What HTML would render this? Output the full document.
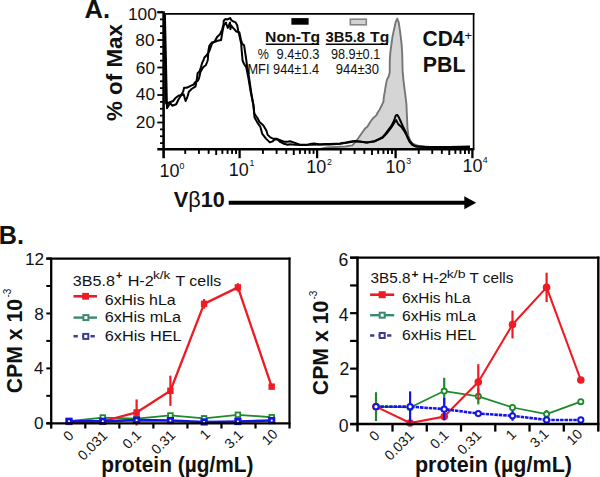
<!DOCTYPE html>
<html><head><meta charset="utf-8"><style>
html,body{margin:0;padding:0;background:#fff;}
svg{display:block;}
text{font-family:"Liberation Sans", sans-serif;fill:#111;}
</style></head><body>
<svg width="600" height="477" viewBox="0 0 600 477">
<rect width="600" height="477" fill="#fff"/>
<text x="84.6" y="17.9" font-size="25.5" font-weight="bold">A.</text>
<text transform="translate(122.3,121) rotate(-90)" font-size="22" font-weight="bold" textLength="97" lengthAdjust="spacingAndGlyphs">% of Max</text>
<text x="156.8" y="20.1" font-size="17.3" text-anchor="end">100</text>
<text x="154.5" y="45.7" font-size="17.3" text-anchor="end">80</text>
<text x="155" y="73.8" font-size="17.3" text-anchor="end">60</text>
<text x="155" y="100.1" font-size="17.3" text-anchor="end">40</text>
<text x="155" y="127.6" font-size="17.3" text-anchor="end">20</text>
<line x1="160" x2="163" y1="143.12" y2="143.12" stroke="#000" stroke-width="1.8"/>
<line x1="160" x2="163" y1="136.25" y2="136.25" stroke="#000" stroke-width="1.8"/>
<line x1="160" x2="163" y1="129.38" y2="129.38" stroke="#000" stroke-width="1.8"/>
<line x1="157.3" x2="163" y1="122.5" y2="122.5" stroke="#000" stroke-width="1.8"/>
<line x1="160" x2="163" y1="115.62" y2="115.62" stroke="#000" stroke-width="1.8"/>
<line x1="160" x2="163" y1="108.75" y2="108.75" stroke="#000" stroke-width="1.8"/>
<line x1="160" x2="163" y1="101.88" y2="101.88" stroke="#000" stroke-width="1.8"/>
<line x1="157.3" x2="163" y1="95" y2="95" stroke="#000" stroke-width="1.8"/>
<line x1="160" x2="163" y1="88.12" y2="88.12" stroke="#000" stroke-width="1.8"/>
<line x1="160" x2="163" y1="81.25" y2="81.25" stroke="#000" stroke-width="1.8"/>
<line x1="160" x2="163" y1="74.38" y2="74.38" stroke="#000" stroke-width="1.8"/>
<line x1="157.3" x2="163" y1="67.5" y2="67.5" stroke="#000" stroke-width="1.8"/>
<line x1="160" x2="163" y1="60.62" y2="60.62" stroke="#000" stroke-width="1.8"/>
<line x1="160" x2="163" y1="53.75" y2="53.75" stroke="#000" stroke-width="1.8"/>
<line x1="160" x2="163" y1="46.88" y2="46.88" stroke="#000" stroke-width="1.8"/>
<line x1="157.3" x2="163" y1="40" y2="40" stroke="#000" stroke-width="1.8"/>
<line x1="160" x2="163" y1="33.12" y2="33.12" stroke="#000" stroke-width="1.8"/>
<line x1="160" x2="163" y1="26.25" y2="26.25" stroke="#000" stroke-width="1.8"/>
<line x1="160" x2="163" y1="19.38" y2="19.38" stroke="#000" stroke-width="1.8"/>
<line x1="157.3" x2="163" y1="12.5" y2="12.5" stroke="#000" stroke-width="1.8"/>
<line x1="185.22" x2="185.22" y1="149" y2="153.9" stroke="#000" stroke-width="1.9"/>
<line x1="198.92" x2="198.92" y1="149" y2="153.9" stroke="#000" stroke-width="1.9"/>
<line x1="208.64" x2="208.64" y1="149" y2="153.9" stroke="#000" stroke-width="1.9"/>
<line x1="216.18" x2="216.18" y1="149" y2="155" stroke="#000" stroke-width="1.9"/>
<line x1="222.34" x2="222.34" y1="149" y2="153.9" stroke="#000" stroke-width="1.9"/>
<line x1="227.55" x2="227.55" y1="149" y2="153.9" stroke="#000" stroke-width="1.9"/>
<line x1="232.06" x2="232.06" y1="149" y2="153.9" stroke="#000" stroke-width="1.9"/>
<line x1="236.04" x2="236.04" y1="149" y2="153.9" stroke="#000" stroke-width="1.9"/>
<line x1="262.93" x2="262.93" y1="149" y2="153.9" stroke="#000" stroke-width="1.9"/>
<line x1="276.58" x2="276.58" y1="149" y2="153.9" stroke="#000" stroke-width="1.9"/>
<line x1="286.26" x2="286.26" y1="149" y2="153.9" stroke="#000" stroke-width="1.9"/>
<line x1="293.77" x2="293.77" y1="149" y2="155" stroke="#000" stroke-width="1.9"/>
<line x1="299.91" x2="299.91" y1="149" y2="153.9" stroke="#000" stroke-width="1.9"/>
<line x1="305.1" x2="305.1" y1="149" y2="153.9" stroke="#000" stroke-width="1.9"/>
<line x1="309.59" x2="309.59" y1="149" y2="153.9" stroke="#000" stroke-width="1.9"/>
<line x1="313.55" x2="313.55" y1="149" y2="153.9" stroke="#000" stroke-width="1.9"/>
<line x1="340.73" x2="340.73" y1="149" y2="153.9" stroke="#000" stroke-width="1.9"/>
<line x1="354.55" x2="354.55" y1="149" y2="153.9" stroke="#000" stroke-width="1.9"/>
<line x1="364.36" x2="364.36" y1="149" y2="153.9" stroke="#000" stroke-width="1.9"/>
<line x1="371.97" x2="371.97" y1="149" y2="155" stroke="#000" stroke-width="1.9"/>
<line x1="378.18" x2="378.18" y1="149" y2="153.9" stroke="#000" stroke-width="1.9"/>
<line x1="383.44" x2="383.44" y1="149" y2="153.9" stroke="#000" stroke-width="1.9"/>
<line x1="387.99" x2="387.99" y1="149" y2="153.9" stroke="#000" stroke-width="1.9"/>
<line x1="392.01" x2="392.01" y1="149" y2="153.9" stroke="#000" stroke-width="1.9"/>
<line x1="418.72" x2="418.72" y1="149" y2="153.9" stroke="#000" stroke-width="1.9"/>
<line x1="432.24" x2="432.24" y1="149" y2="153.9" stroke="#000" stroke-width="1.9"/>
<line x1="441.84" x2="441.84" y1="149" y2="153.9" stroke="#000" stroke-width="1.9"/>
<line x1="449.28" x2="449.28" y1="149" y2="155" stroke="#000" stroke-width="1.9"/>
<line x1="455.36" x2="455.36" y1="149" y2="153.9" stroke="#000" stroke-width="1.9"/>
<line x1="460.5" x2="460.5" y1="149" y2="153.9" stroke="#000" stroke-width="1.9"/>
<line x1="464.96" x2="464.96" y1="149" y2="153.9" stroke="#000" stroke-width="1.9"/>
<line x1="468.89" x2="468.89" y1="149" y2="153.9" stroke="#000" stroke-width="1.9"/>
<line x1="239.6" x2="239.6" y1="149" y2="158.2" stroke="#000" stroke-width="2.3"/>
<line x1="317.1" x2="317.1" y1="149" y2="158.2" stroke="#000" stroke-width="2.3"/>
<line x1="395.6" x2="395.6" y1="149" y2="158.2" stroke="#000" stroke-width="2.3"/>
<line x1="472.4" x2="472.4" y1="149" y2="158.2" stroke="#000" stroke-width="2.3"/>
<text x="159.4" y="176.9" font-size="18" textLength="20" lengthAdjust="spacingAndGlyphs">10</text>
<text x="179.4" y="169.3" font-size="8.8">0</text>
<text x="228.8" y="175.6" font-size="18" textLength="20" lengthAdjust="spacingAndGlyphs">10</text>
<text x="249.5" y="166.4" font-size="8.8">1</text>
<text x="306.3" y="173.3" font-size="18" textLength="20" lengthAdjust="spacingAndGlyphs">10</text>
<text x="326.9" y="164.7" font-size="8.8">2</text>
<text x="385.6" y="172.7" font-size="18" textLength="20" lengthAdjust="spacingAndGlyphs">10</text>
<text x="406.3" y="163.8" font-size="8.8">3</text>
<text x="462.5" y="172" font-size="18" textLength="20" lengthAdjust="spacingAndGlyphs">10</text>
<text x="482.7" y="162.6" font-size="8.8">4</text>
<polygon points="318,149.5 327,147.5 340,146.8 345,146.5 352.3,145.4 355.6,141.8 358.4,138 361.7,133.3 365,128.6 367.4,126.7 370.2,122 373,118.2 376.3,115.4 377.7,112.5 379.6,109.7 381.9,105 383.4,101.9 383.9,96.6 385,90.4 386,84.1 387,79.4 388.6,76.8 389.7,72.6 389.8,60.1 390.3,52.8 391.4,44.4 392.4,37.1 394,29.7 395.6,22.4 397.2,18.7 398.7,22.4 399.8,29.7 400.8,37.1 401.7,45.4 402.2,53.8 402.4,62 402.6,70.5 403.3,78.8 404.3,87.2 405.4,95.6 406.4,104 407.1,119.2 407.5,128.6 408.5,136.1 410.4,140.8 412.7,143.7 415,144.6 420,146.5 430,147.5 470,148.2 470,149.5" fill="#d5d5d5" stroke="none"/>
<polyline points="318,149.5 327,147.5 340,146.8 345,146.5 352.3,145.4 355.6,141.8 358.4,138 361.7,133.3 365,128.6 367.4,126.7 370.2,122 373,118.2 376.3,115.4 377.7,112.5 379.6,109.7 381.9,105 383.4,101.9 383.9,96.6 385,90.4 386,84.1 387,79.4 388.6,76.8 389.7,72.6 389.8,60.1 390.3,52.8 391.4,44.4 392.4,37.1 394,29.7 395.6,22.4 397.2,18.7 398.7,22.4 399.8,29.7 400.8,37.1 401.7,45.4 402.2,53.8 402.4,62 402.6,70.5 403.3,78.8 404.3,87.2 405.4,95.6 406.4,104 407.1,119.2 407.5,128.6 408.5,136.1 410.4,140.8 412.7,143.7 415,144.6 420,146.5 430,147.5 470,148.2" fill="none" stroke="#767676" stroke-width="1.9" stroke-linejoin="round"/>
<polyline points="164.9,14.5 167,108.3 170.2,103 172.2,105.7 176.2,104.3 178.6,99.3 180.9,95.7 183.6,94.3 185.6,101 187.6,96.3 188.9,91.7 191.6,89 195.6,86.3 196.9,78.7 197.6,73.3 199.6,71.3 200.9,67.3 202.2,62.7 203.6,60 204.4,57.5 206.9,55 209.4,50.9 211.9,43.8 214.8,41.3 216.9,37.3 220.2,34 222.2,29.3 223.6,24 223.7,20.8 225.3,19.1 227.3,19.5 229.3,18.5 230.3,18.1 231.3,20.1 233.3,21.5 235.3,22.1 237.2,25.3 238.3,31 239.4,35.5 241.2,43.9 241.6,49.5 242.1,55.2 242.6,60.8 244,63.7 246.3,67.5 248.4,78 250.9,93 253.5,105 254.5,117.3 257.5,122.9 260.3,126.7 262.3,133.9 266,138.6 269.8,142.4 272.6,141.4 274.5,139.6 277.4,139.6 280.2,141.9 284,143.8 287.7,144.8 290,144.3 295,144.8 301.7,145.1 306,145.1 310,144.1 314,143.4 320,144.4 325,144.1 330,143.9 340,143.4 346,142.6 351,141.6 355,141.1 360,141.6 366.8,142.6 373.5,141.6 375,141 378.8,139.1 382.5,137.2 385.4,133.9 388.2,130.1 391,126.4 393.9,121 395.8,115.4 397.2,114.9 398.6,116.8 400.5,121 403.3,127.3 406.1,133 408,138.6 409.9,142.4 412.7,145.2 415,146.2 420,146.5 430,147 450,147 470,146.6" fill="none" stroke="#000" stroke-width="2" stroke-linejoin="round"/>
<polyline points="164.3,14.5 166.1,103.5 168,103 169.8,102.3 173.1,101 175.8,97.7 178.4,95.7 181.1,95 183.1,91.7 184.1,87.7 186.4,87.7 188.4,87 191.1,85.7 193.8,84.5 194.7,82.7 197.8,80.7 199.1,78 200.4,72 203.1,67.3 205.8,65.3 207.1,62 207.8,60 208.4,50.9 209.3,45.9 211.8,42.5 215.1,41.7 217.6,40.8 221.1,40 222.4,32 223.8,25.3 226,22.5 226.4,24 227.8,28 230,22.5 230.4,29.3 231.1,25.3 232.4,27.3 234.4,29.3 236.4,31.5 239.4,32.5 240.8,39.2 242.2,43.9 244.1,45.3 245,51.4 246,58 246.9,64.6 247.9,70 249.4,80 251.3,93 253.3,105 254.3,113.5 257.6,118.2 259.5,122 263.2,125.2 266.5,130.8 267.5,134.6 270.3,137.4 272.6,138.4 276.4,138.8 280.2,140.2 284,141.7 287.7,141.7 290,141.2 295,142.9 300,144.7 310,144.7 320,144.6 330,144.4 340,143.7 350,142.2 355,141.2 360,141.7 366.8,142.4 375,141.2 382.5,137.9 387.3,132.7 391,128 394.8,122 396.2,120.1 398.1,123.9 401.4,127 404.5,131.4 407.5,136.9 409.5,140.9 412.5,144.4 416,146.5 430,147.3 470,147.2" fill="none" stroke="#000" stroke-width="2" stroke-linejoin="round"/>
<line x1="163.6" x2="163.6" y1="11.3" y2="158.2" stroke="#000" stroke-width="2.6"/>
<line x1="157.3" x2="474.2" y1="149.2" y2="149.2" stroke="#000" stroke-width="2.6"/>
<line x1="157.3" x2="163" y1="12" y2="12" stroke="#000" stroke-width="1.8"/>
<line x1="163" x2="474.4" y1="13.8" y2="13.8" stroke="#000" stroke-width="1.8"/>
<line x1="473.6" x2="473.6" y1="13" y2="150" stroke="#000" stroke-width="1.7"/>
<rect x="291.4" y="18.1" width="17.2" height="6.6" fill="#000"/>
<rect x="350.3" y="19.2" width="16" height="5.6" fill="#d2d2d2" stroke="#858585" stroke-width="1.6"/>
<text x="265.05" y="41.6" font-size="14.5" font-weight="bold" textLength="55.11" lengthAdjust="spacingAndGlyphs">Non-Tg</text>
<line x1="265.8" x2="319.3" y1="44.2" y2="44.2" stroke="#000" stroke-width="1.4"/>
<text x="325.56" y="41.6" font-size="14.5" font-weight="bold" textLength="39.49" lengthAdjust="spacingAndGlyphs">3B5.8</text>
<text x="370.12" y="41.6" font-size="14.5" font-weight="bold" textLength="19.12" lengthAdjust="spacingAndGlyphs">Tg</text>
<line x1="325.8" x2="388" y1="44.2" y2="44.2" stroke="#000" stroke-width="1.4"/>
<text x="257.86" y="59" font-size="13.8" textLength="11.09" lengthAdjust="spacingAndGlyphs">%</text>
<text x="276.6" y="59" font-size="13.8" textLength="42.77" lengthAdjust="spacingAndGlyphs">9.4&#177;0.3</text>
<text x="331.01" y="59" font-size="13.8" textLength="49.21" lengthAdjust="spacingAndGlyphs">98.9&#177;0.1</text>
<text x="247.45" y="73.6" font-size="13.8" textLength="71.72" lengthAdjust="spacingAndGlyphs">MFI 944&#177;1.4</text>
<text x="335.69" y="73.6" font-size="13.8" textLength="43.32" lengthAdjust="spacingAndGlyphs">944&#177;30</text>
<text x="422.54" y="46.2" font-size="21.7" font-weight="bold" textLength="41.97" lengthAdjust="spacingAndGlyphs">CD4</text>
<text x="464.57" y="40.4" font-size="13.5" textLength="7.57" lengthAdjust="spacingAndGlyphs">+</text>
<text x="422.77" y="71.8" font-size="21.7" font-weight="bold" textLength="42.68" lengthAdjust="spacingAndGlyphs">PBL</text>
<text x="173.8" y="206.5" font-size="22" font-weight="bold" textLength="51" lengthAdjust="spacingAndGlyphs">V<tspan font-weight="normal">&#946;</tspan>10</text>
<line x1="228.7" x2="465" y1="202.8" y2="202.8" stroke="#000" stroke-width="4"/>
<polygon points="464.3,196.3 476.2,202.8 464.3,209.2" fill="#000"/>
<text x="-1.3" y="243.6" font-size="25.2" font-weight="bold">B.</text>
<line x1="204.1" x2="204.1" y1="415.61" y2="421.1" stroke="#1e8a2c" stroke-width="2.2"/>
<line x1="271.7" x2="271.7" y1="415.89" y2="418.63" stroke="#1e8a2c" stroke-width="2.2"/>
<polyline points="69,421.24 102.8,417.53 136.6,418.63 170.4,415.47 204.1,418.36 237.9,414.79 271.7,417.26" fill="none" stroke="#1e8a2c" stroke-width="1.8" stroke-linejoin="round"/>
<rect x="66.7" y="418.94" width="4.6" height="4.6" fill="#fff" stroke="#1e8a2c" stroke-width="1.8"/>
<rect x="100.5" y="415.23" width="4.6" height="4.6" fill="#fff" stroke="#1e8a2c" stroke-width="1.8"/>
<rect x="134.3" y="416.33" width="4.6" height="4.6" fill="#fff" stroke="#1e8a2c" stroke-width="1.8"/>
<rect x="168.1" y="413.17" width="4.6" height="4.6" fill="#fff" stroke="#1e8a2c" stroke-width="1.8"/>
<rect x="201.8" y="416.06" width="4.6" height="4.6" fill="#fff" stroke="#1e8a2c" stroke-width="1.8"/>
<rect x="235.6" y="412.49" width="4.6" height="4.6" fill="#fff" stroke="#1e8a2c" stroke-width="1.8"/>
<rect x="269.4" y="414.96" width="4.6" height="4.6" fill="#fff" stroke="#1e8a2c" stroke-width="1.8"/>
<line x1="136.6" x2="136.6" y1="399.41" y2="425.5" stroke="#ee1b24" stroke-width="2.2"/>
<line x1="170.4" x2="170.4" y1="375.66" y2="405.86" stroke="#ee1b24" stroke-width="2.2"/>
<line x1="204.1" x2="204.1" y1="299.04" y2="308.65" stroke="#ee1b24" stroke-width="2.2"/>
<line x1="237.9" x2="237.9" y1="283.25" y2="291.49" stroke="#ee1b24" stroke-width="2.2"/>
<line x1="271.7" x2="271.7" y1="385.54" y2="387.74" stroke="#ee1b24" stroke-width="2.2"/>
<polyline points="69,421.93 102.8,421.24 136.6,412.45 170.4,390.76 204.1,303.85 237.9,287.37 271.7,386.64" fill="none" stroke="#ee1b24" stroke-width="2.3" stroke-linejoin="round"/>
<rect x="65.8" y="418.73" width="6.4" height="6.4" fill="#ee1b24"/>
<rect x="99.6" y="418.04" width="6.4" height="6.4" fill="#ee1b24"/>
<rect x="133.4" y="409.25" width="6.4" height="6.4" fill="#ee1b24"/>
<rect x="167.2" y="387.56" width="6.4" height="6.4" fill="#ee1b24"/>
<rect x="200.9" y="300.65" width="6.4" height="6.4" fill="#ee1b24"/>
<rect x="234.7" y="284.17" width="6.4" height="6.4" fill="#ee1b24"/>
<rect x="268.5" y="383.44" width="6.4" height="6.4" fill="#ee1b24"/>
<polyline points="69,421.24 102.8,421.24 136.6,420.14 170.4,420.55 204.1,421.93 237.9,421.52 271.7,420.55" fill="none" stroke="#1414e6" stroke-width="2.6" stroke-linejoin="round"/>
<rect x="66.75" y="418.99" width="4.5" height="4.5" fill="#fff" stroke="#1414e6" stroke-width="2.7"/>
<rect x="100.55" y="418.99" width="4.5" height="4.5" fill="#fff" stroke="#1414e6" stroke-width="2.7"/>
<rect x="134.35" y="417.89" width="4.5" height="4.5" fill="#fff" stroke="#1414e6" stroke-width="2.7"/>
<rect x="168.15" y="418.3" width="4.5" height="4.5" fill="#fff" stroke="#1414e6" stroke-width="2.7"/>
<rect x="201.85" y="419.68" width="4.5" height="4.5" fill="#fff" stroke="#1414e6" stroke-width="2.7"/>
<rect x="235.65" y="419.27" width="4.5" height="4.5" fill="#fff" stroke="#1414e6" stroke-width="2.7"/>
<rect x="269.45" y="418.3" width="4.5" height="4.5" fill="#fff" stroke="#1414e6" stroke-width="2.7"/>
<line x1="51.2" x2="51.2" y1="257.6" y2="428.6" stroke="#000" stroke-width="2.3"/>
<line x1="46.3" x2="290.5" y1="258.6" y2="258.6" stroke="#000" stroke-width="2.2"/>
<line x1="46.3" x2="290.5" y1="423.3" y2="423.3" stroke="#000" stroke-width="2.2"/>
<line x1="289.5" x2="289.5" y1="257.6" y2="428.5" stroke="#000" stroke-width="2.2"/>
<line x1="46.3" x2="51" y1="423.3" y2="423.3" stroke="#000" stroke-width="2"/>
<line x1="46.3" x2="51" y1="395.84" y2="395.84" stroke="#000" stroke-width="2"/>
<line x1="46.3" x2="51" y1="368.38" y2="368.38" stroke="#000" stroke-width="2"/>
<line x1="46.3" x2="51" y1="340.92" y2="340.92" stroke="#000" stroke-width="2"/>
<line x1="46.3" x2="51" y1="313.46" y2="313.46" stroke="#000" stroke-width="2"/>
<line x1="46.3" x2="51" y1="286" y2="286" stroke="#000" stroke-width="2"/>
<line x1="46.3" x2="51" y1="258.54" y2="258.54" stroke="#000" stroke-width="2"/>
<text x="44.1" y="265.35" font-size="17.2" text-anchor="end">12</text>
<text x="43.7" y="320.25" font-size="17.2" text-anchor="end">8</text>
<text x="43.5" y="373.75" font-size="17.2" text-anchor="end">4</text>
<text x="43.5" y="428.55" font-size="17.2" text-anchor="end">0</text>
<line x1="85.3" x2="85.3" y1="423" y2="428.5" stroke="#000" stroke-width="2.2"/>
<line x1="119.34" x2="119.34" y1="423" y2="428.5" stroke="#000" stroke-width="2.2"/>
<line x1="153.38" x2="153.38" y1="423" y2="428.5" stroke="#000" stroke-width="2.2"/>
<line x1="187.42" x2="187.42" y1="423" y2="428.5" stroke="#000" stroke-width="2.2"/>
<line x1="221.46" x2="221.46" y1="423" y2="428.5" stroke="#000" stroke-width="2.2"/>
<line x1="255.5" x2="255.5" y1="423" y2="428.5" stroke="#000" stroke-width="2.2"/>
<text transform="translate(74.5,436.5) rotate(-45)" font-size="14" text-anchor="end">0</text>
<text transform="translate(108.3,436.5) rotate(-45)" font-size="14" text-anchor="end">0.031</text>
<text transform="translate(142.1,436) rotate(-45)" font-size="14" text-anchor="end">0.1</text>
<text transform="translate(176.2,436) rotate(-45)" font-size="14" text-anchor="end">0.31</text>
<text transform="translate(211.1,435) rotate(-45)" font-size="14" text-anchor="end">1</text>
<text transform="translate(243.9,435.7) rotate(-45)" font-size="14" text-anchor="end">3.1</text>
<text transform="translate(278.4,435) rotate(-45)" font-size="14" text-anchor="end">10</text>
<text x="101.23" y="472.3" font-size="21.5" font-weight="bold" textLength="152.21" lengthAdjust="spacingAndGlyphs">protein (&#181;g/mL)</text>
<text transform="translate(22.1,393.3) rotate(-90)" font-size="22.4" font-weight="bold" textLength="94.5" lengthAdjust="spacingAndGlyphs">CPM x 10</text>
<text transform="translate(10.8,297.5) rotate(-90)" font-size="10">-3</text>
<text x="72.89" y="285.6" font-size="14.8" textLength="42.01" lengthAdjust="spacingAndGlyphs">3B5.8</text>
<text x="115.95" y="279" font-size="11.3" font-weight="bold" textLength="6.29" lengthAdjust="spacingAndGlyphs">+</text>
<text x="127.67" y="285.6" font-size="14.8" textLength="26.15" lengthAdjust="spacingAndGlyphs">H-2</text>
<text x="152.98" y="278.8" font-size="11.2" textLength="17.4" lengthAdjust="spacingAndGlyphs">k/k</text>
<text x="175.44" y="285.6" font-size="14.8" textLength="45.73" lengthAdjust="spacingAndGlyphs">T cells</text>
<line x1="73.5" x2="97" y1="296.3" y2="296.3" stroke="#ee1b24" stroke-width="2.6"/>
<rect x="82.2" y="292.9" width="6.8" height="6.8" fill="#ee1b24"/>
<line x1="73.5" x2="97" y1="317.6" y2="317.6" stroke="#3a8a72" stroke-width="2.4"/>
<rect x="83.4" y="315.1" width="5" height="5" fill="#fff" stroke="#3a8a72" stroke-width="2"/>
<line x1="73.5" x2="97" y1="336.2" y2="336.2" stroke="#3c3c94" stroke-width="2.4" stroke-dasharray="4.3,4.2"/>
<rect x="83.3" y="333.9" width="5" height="5" fill="#fff" stroke="#3c3c94" stroke-width="2"/>
<text x="104.79" y="304.9" font-size="15" textLength="70.81" lengthAdjust="spacingAndGlyphs">6xHis hLa</text>
<text x="104.78" y="322.2" font-size="15" textLength="76.32" lengthAdjust="spacingAndGlyphs">6xHis mLa</text>
<text x="104.77" y="340.6" font-size="15" textLength="76.87" lengthAdjust="spacingAndGlyphs">6xHis HEL</text>
<line x1="376" x2="376" y1="392.21" y2="421.05" stroke="#1e8a2c" stroke-width="2.2"/>
<line x1="444.2" x2="444.2" y1="377.79" y2="404.41" stroke="#1e8a2c" stroke-width="2.2"/>
<line x1="478.3" x2="478.3" y1="388.33" y2="404.41" stroke="#1e8a2c" stroke-width="2.2"/>
<line x1="512.5" x2="512.5" y1="404.13" y2="410.79" stroke="#1e8a2c" stroke-width="2.2"/>
<line x1="546.6" x2="546.6" y1="409.96" y2="418.28" stroke="#1e8a2c" stroke-width="2.2"/>
<line x1="580.8" x2="580.8" y1="400.25" y2="403.03" stroke="#1e8a2c" stroke-width="2.2"/>
<polyline points="376,406.63 410.1,407.46 444.2,391.1 478.3,396.37 512.5,407.46 546.6,414.12 580.8,401.64" fill="none" stroke="#1e8a2c" stroke-width="1.7" stroke-linejoin="round"/>
<circle cx="376" cy="406.63" r="2.6" fill="#fff" stroke="#1e8a2c" stroke-width="1.8"/>
<circle cx="410.1" cy="407.46" r="2.6" fill="#fff" stroke="#1e8a2c" stroke-width="1.8"/>
<circle cx="444.2" cy="391.1" r="2.6" fill="#fff" stroke="#1e8a2c" stroke-width="1.8"/>
<circle cx="478.3" cy="396.37" r="2.6" fill="#fff" stroke="#1e8a2c" stroke-width="1.8"/>
<circle cx="512.5" cy="407.46" r="2.6" fill="#fff" stroke="#1e8a2c" stroke-width="1.8"/>
<circle cx="546.6" cy="414.12" r="2.6" fill="#fff" stroke="#1e8a2c" stroke-width="1.8"/>
<circle cx="580.8" cy="401.64" r="2.6" fill="#fff" stroke="#1e8a2c" stroke-width="1.8"/>
<line x1="444.2" x2="444.2" y1="415.23" y2="418" stroke="#ee1b24" stroke-width="2.2"/>
<line x1="478.3" x2="478.3" y1="364.2" y2="399.7" stroke="#ee1b24" stroke-width="2.2"/>
<line x1="512.5" x2="512.5" y1="310.68" y2="338.41" stroke="#ee1b24" stroke-width="2.2"/>
<line x1="546.6" x2="546.6" y1="272.69" y2="302.09" stroke="#ee1b24" stroke-width="2.2"/>
<polyline points="376,406.63 410.1,422.99 444.2,416.61 478.3,381.95 512.5,324.55 546.6,287.39 580.8,380.01" fill="none" stroke="#ee1b24" stroke-width="2.1" stroke-linejoin="round"/>
<circle cx="376" cy="406.63" r="3.8" fill="#ee1b24"/>
<circle cx="410.1" cy="422.99" r="3.8" fill="#ee1b24"/>
<circle cx="444.2" cy="416.61" r="3.8" fill="#ee1b24"/>
<circle cx="478.3" cy="381.95" r="3.8" fill="#ee1b24"/>
<circle cx="512.5" cy="324.55" r="3.8" fill="#ee1b24"/>
<circle cx="546.6" cy="287.39" r="3.8" fill="#ee1b24"/>
<circle cx="580.8" cy="380.01" r="3.8" fill="#ee1b24"/>
<line x1="376" x2="376" y1="405.24" y2="408.02" stroke="#1414e6" stroke-width="2.2"/>
<line x1="410.1" x2="410.1" y1="391.38" y2="421.88" stroke="#1414e6" stroke-width="2.2"/>
<line x1="444.2" x2="444.2" y1="398.03" y2="420.22" stroke="#1414e6" stroke-width="2.2"/>
<line x1="512.5" x2="512.5" y1="410.79" y2="420.77" stroke="#1414e6" stroke-width="2.2"/>
<line x1="546.6" x2="546.6" y1="418.55" y2="421.33" stroke="#1414e6" stroke-width="2.2"/>
<polyline points="376,406.63 410.1,406.63 444.2,409.13 478.3,413.56 512.5,415.78 546.6,419.94 580.8,419.94" fill="none" stroke="#1414e6" stroke-width="2.6" stroke-dasharray="3.5,0.9" stroke-linejoin="round"/>
<circle cx="376" cy="406.63" r="2.6" fill="#fff" stroke="#1414e6" stroke-width="2"/>
<circle cx="410.1" cy="406.63" r="2.6" fill="#fff" stroke="#1414e6" stroke-width="2"/>
<circle cx="444.2" cy="409.13" r="2.6" fill="#fff" stroke="#1414e6" stroke-width="2"/>
<circle cx="478.3" cy="413.56" r="2.6" fill="#fff" stroke="#1414e6" stroke-width="2"/>
<circle cx="512.5" cy="415.78" r="2.6" fill="#fff" stroke="#1414e6" stroke-width="2"/>
<circle cx="546.6" cy="419.94" r="2.6" fill="#fff" stroke="#1414e6" stroke-width="2"/>
<circle cx="580.8" cy="419.94" r="2.6" fill="#fff" stroke="#1414e6" stroke-width="2"/>
<line x1="357.5" x2="357.5" y1="256.6" y2="431.6" stroke="#000" stroke-width="2.5"/>
<line x1="350.1" x2="599.4" y1="257.6" y2="257.6" stroke="#000" stroke-width="2.3"/>
<line x1="350.1" x2="599.4" y1="424.1" y2="424.1" stroke="#000" stroke-width="2.5"/>
<line x1="598.3" x2="598.3" y1="256.6" y2="431.6" stroke="#000" stroke-width="2.4"/>
<line x1="350.1" x2="357" y1="424.1" y2="424.1" stroke="#000" stroke-width="2.2"/>
<line x1="350.1" x2="357" y1="396.37" y2="396.37" stroke="#000" stroke-width="2.2"/>
<line x1="350.1" x2="357" y1="368.64" y2="368.64" stroke="#000" stroke-width="2.2"/>
<line x1="350.1" x2="357" y1="340.91" y2="340.91" stroke="#000" stroke-width="2.2"/>
<line x1="350.1" x2="357" y1="313.18" y2="313.18" stroke="#000" stroke-width="2.2"/>
<line x1="350.1" x2="357" y1="285.45" y2="285.45" stroke="#000" stroke-width="2.2"/>
<line x1="350.1" x2="357" y1="257.72" y2="257.72" stroke="#000" stroke-width="2.2"/>
<text x="348.3" y="266.1" font-size="17.6" text-anchor="end">6</text>
<text x="348.6" y="321.4" font-size="17.6" text-anchor="end">4</text>
<text x="349.4" y="375.2" font-size="17.6" text-anchor="end">2</text>
<text x="348.5" y="431.9" font-size="17.6" text-anchor="end">0</text>
<line x1="392.5" x2="392.5" y1="424" y2="431.6" stroke="#000" stroke-width="2.3"/>
<line x1="426.76" x2="426.76" y1="424" y2="431.6" stroke="#000" stroke-width="2.3"/>
<line x1="461.02" x2="461.02" y1="424" y2="431.6" stroke="#000" stroke-width="2.3"/>
<line x1="495.28" x2="495.28" y1="424" y2="431.6" stroke="#000" stroke-width="2.3"/>
<line x1="529.54" x2="529.54" y1="424" y2="431.6" stroke="#000" stroke-width="2.3"/>
<line x1="563.8" x2="563.8" y1="424" y2="431.6" stroke="#000" stroke-width="2.3"/>
<text transform="translate(380.5,436.5) rotate(-45)" font-size="14" text-anchor="end">0</text>
<text transform="translate(415.1,436.5) rotate(-45)" font-size="14" text-anchor="end">0.031</text>
<text transform="translate(449.4,436) rotate(-45)" font-size="14" text-anchor="end">0.1</text>
<text transform="translate(482.3,436.2) rotate(-45)" font-size="14" text-anchor="end">0.31</text>
<text transform="translate(517,435.2) rotate(-45)" font-size="14" text-anchor="end">1</text>
<text transform="translate(549.6,434.8) rotate(-45)" font-size="14" text-anchor="end">3.1</text>
<text transform="translate(583.3,435) rotate(-45)" font-size="14" text-anchor="end">10</text>
<text x="414.88" y="472.3" font-size="21.5" font-weight="bold" textLength="157.09" lengthAdjust="spacingAndGlyphs">protein (&#181;g/mL)</text>
<text transform="translate(328.3,395.2) rotate(-90)" font-size="22.4" font-weight="bold" textLength="94.5" lengthAdjust="spacingAndGlyphs">CPM x 10</text>
<text transform="translate(316.6,299.5) rotate(-90)" font-size="10">-3</text>
<text x="370.52" y="282.6" font-size="14.6" textLength="39.95" lengthAdjust="spacingAndGlyphs">3B5.8</text>
<text x="411.5" y="278.4" font-size="11.5" font-weight="bold" textLength="6.99" lengthAdjust="spacingAndGlyphs">+</text>
<text x="422.22" y="282.6" font-size="14.6" textLength="25.17" lengthAdjust="spacingAndGlyphs">H-2</text>
<text x="446.75" y="277.9" font-size="10.4" textLength="18.74" lengthAdjust="spacingAndGlyphs">k/b</text>
<text x="469.46" y="282.6" font-size="14.6" textLength="43.89" lengthAdjust="spacingAndGlyphs">T cells</text>
<line x1="370.1" x2="394.2" y1="294.7" y2="294.7" stroke="#ee1b24" stroke-width="2.6"/>
<rect x="378.7" y="291.2" width="7" height="7" fill="#ee1b24"/>
<line x1="370.1" x2="394.2" y1="315.2" y2="315.2" stroke="#3a8a72" stroke-width="2.4"/>
<rect x="379.7" y="312.7" width="5" height="5" fill="#fff" stroke="#3a8a72" stroke-width="2"/>
<line x1="370.1" x2="394.2" y1="335.5" y2="335.5" stroke="#3c3c94" stroke-width="2.4" stroke-dasharray="4.3,4.2"/>
<rect x="379.7" y="333" width="5" height="5" fill="#fff" stroke="#3c3c94" stroke-width="2"/>
<text x="402.02" y="303.2" font-size="14.8" textLength="68.58" lengthAdjust="spacingAndGlyphs">6xHis hLa</text>
<text x="402" y="320.9" font-size="14.8" textLength="74" lengthAdjust="spacingAndGlyphs">6xHis mLa</text>
<text x="402" y="340.1" font-size="14.8" textLength="74.12" lengthAdjust="spacingAndGlyphs">6xHis HEL</text>
</svg>
</body></html>
